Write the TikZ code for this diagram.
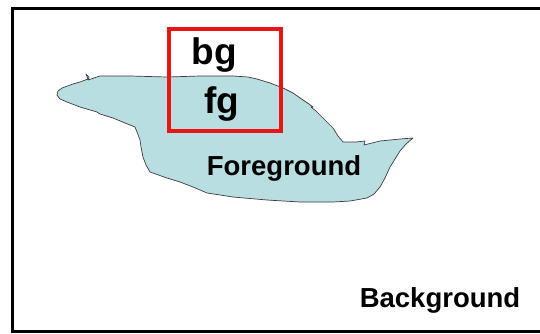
\documentclass[tikz,border=0pt]{standalone}
\usepackage{fontspec}
\setmainfont{Liberation Sans}
\definecolor{fgfill}{RGB}{184,222,226}
\definecolor{fgline}{RGB}{60,60,60}
\definecolor{boxred}{RGB}{235,20,20}
\begin{document}
\begin{tikzpicture}[x=1pt,y=-1pt,
  label/.style={font=\bfseries, inner sep=0pt, text=black},
  biglabel/.style={label, font=\fontsize{37}{40}\selectfont\bfseries},
  midlabel/.style={label, font=\fontsize{27.5}{30}\selectfont\bfseries}]
\useasboundingbox (0,0) rectangle (540,333);
\fill[white] (0,0) rectangle (540,333);
% frame of the whole scene (open on the right)
\draw[line width=3pt] (545,8.5) -- (12.5,8.5) -- (12.5,331) -- (545,331);
% foreground region
\draw[fill=fgfill, draw=fgline, line width=0.7pt, line join=round]
  (86,74) -- (89,77) -- (88,80) -- (100,76) -- (130,76) -- (167,77)
  -- (200,76) -- (233,76) -- (248,77) -- (257,79) -- (270,83)
  -- (283,88) -- (293,93) -- (303,100) -- (309,104) -- (313,107)
  -- (311,107) -- (316,111) -- (320,115) -- (327,122) -- (333,128)
  -- (338,136) -- (343,142) -- (356,142) -- (365,141) -- (364,145)
  -- (380,141) -- (400,139) -- (413,138) -- (406,144) -- (400,151)
  -- (395,159) -- (390,167) -- (385,178) -- (380,187) -- (374,194)
  -- (367,198) -- (350,201) -- (333,202) -- (300,202) -- (267,200)
  -- (233,197) -- (207,193) -- (200,190) -- (193,187) -- (180,182)
  -- (167,178) -- (150,172) -- (146,165) -- (143,157) -- (141,147)
  -- (140,140) -- (137,132) -- (135,127) -- (125,123) -- (113,118)
  -- (100,114) -- (97,112) -- (80,107) -- (67,102) -- (60,99)
  -- (57,95) -- (58,91) -- (62,88) -- (73,84) -- (80,82) -- (88,79)
  -- cycle;
% inspection window
\draw[boxred, line width=4pt] (169,29) rectangle (281,131);
\node[biglabel] (bg) at (214,55) {bg};
\node[biglabel] (fg) at (222,104) {fg};
\node[midlabel] (fore) at (284,168) {Foreground};
\node[midlabel] (back) at (440,300) {Background};
\end{tikzpicture}
\end{document}
